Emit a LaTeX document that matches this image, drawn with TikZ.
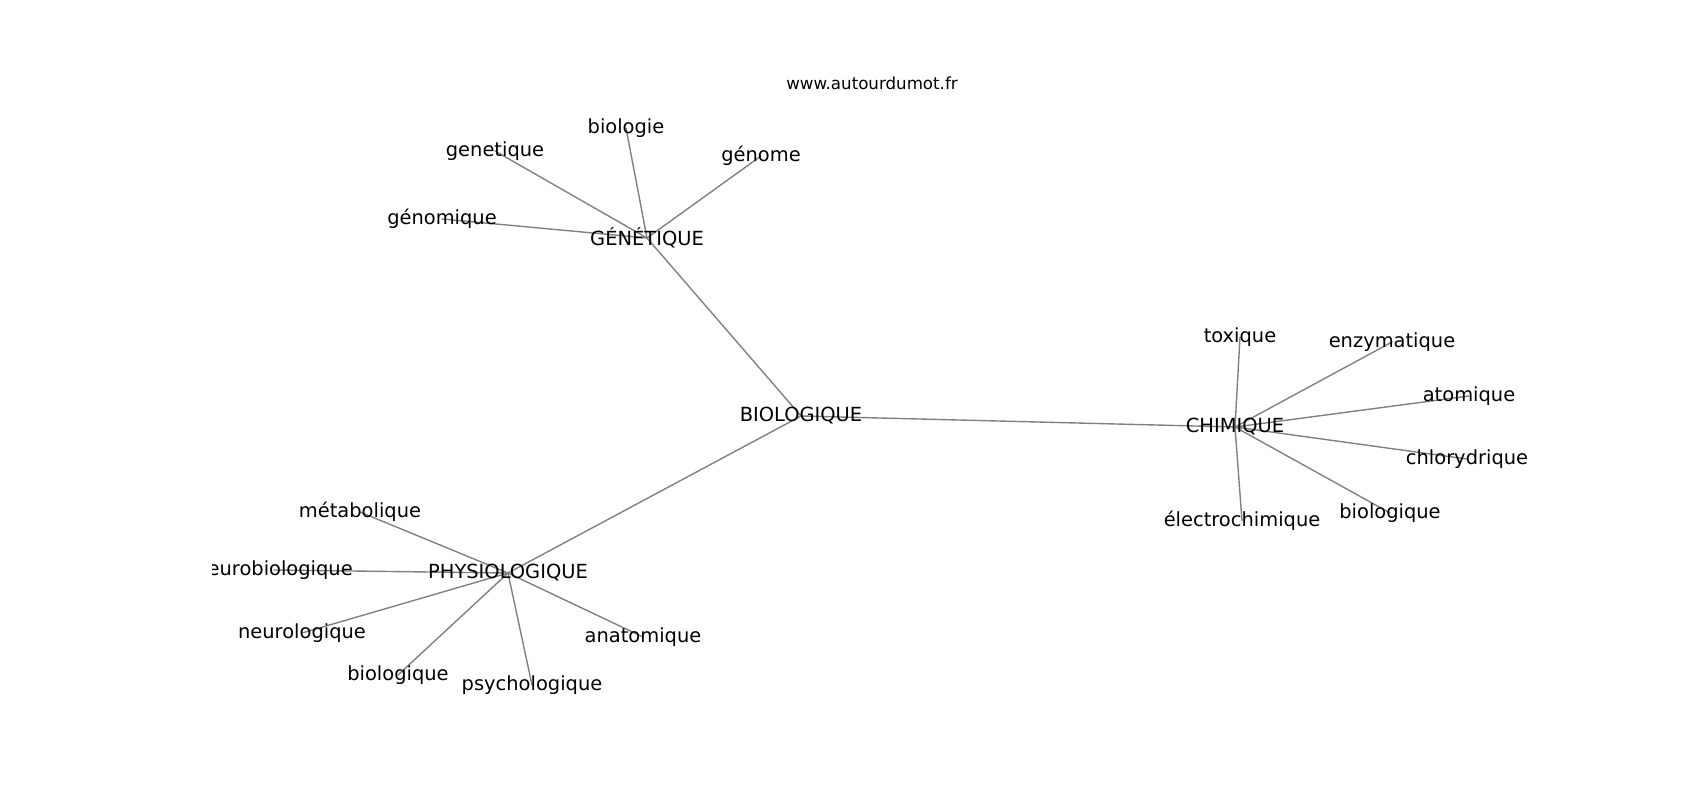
\documentclass[tikz,border=0pt]{standalone}
\usepackage{fontspec}
\setmainfont{DejaVu Sans}
\usepackage{tikz}
\usepackage{tkz-euclide}
\newcommand{\motcle}[1]{{\fontsize{14}{16}\selectfont #1}}

\begin{document}
\begin{tikzpicture}[x=0.72pt,y=-0.72pt]
		\useasboundingbox (0,0) rectangle (1700,800);
		% centres
		\tkzDefPoint(801,416){Bio}
		\tkzDefPoint(647,238){Gen}
		\tkzDefPoint(1235,427){Chi}
		\tkzDefPoint(508,573){Phy}
		% autour de GENETIQUE
		\tkzDefPoint(626,128){Gbio}
		\tkzDefPoint(495,151){Ggen}
		\tkzDefPoint(761,156){Ggenome}
		\tkzDefPoint(442,219){Ggenomique}
		% autour de CHIMIQUE
		\tkzDefPoint(1240,337){Ctox}
		\tkzDefPoint(1392,342){Cenz}
		\tkzDefPoint(1469,396){Cato}
		\tkzDefPoint(1467,459){Cchl}
		\tkzDefPoint(1390,513){Cbio}
		\tkzDefPoint(1242,521){Celec}
		% autour de PHYSIOLOGIQUE
		\tkzDefPoint(360,512){Pmeta}
		\tkzDefPoint(274,570){Pneurobio}
		\tkzDefPoint(302,633){Pneuro}
		\tkzDefPoint(398,675){Pbio}
		\tkzDefPoint(532,685){Ppsy}
		\tkzDefPoint(643,637){Pana}
		%\tkzDrawPoints(Bio,Gen,Chi,Phy)
		\tkzDrawSegments[color=gray,line width=1pt](Bio,Gen Bio,Chi Bio,Phy)
		\tkzDrawSegments[color=gray,line width=1pt](Gen,Gbio Gen,Ggen Gen,Ggenome Gen,Ggenomique)
		\tkzDrawSegments[color=gray,line width=1pt](Chi,Ctox Chi,Cenz Chi,Cato Chi,Cchl Chi,Cbio Chi,Celec)
		\tkzDrawSegments[color=gray,line width=1pt](Phy,Pmeta Phy,Pneurobio Phy,Pneuro Phy,Pbio Phy,Ppsy Phy,Pana)
		% labels, coupes au bord du cadre
		\begin{scope}
		\clip (212.5,96) rectangle (1530,712);
		\node (lBio) at (Bio) {\motcle{BIOLOGIQUE}};
		\node (lGen) at (Gen) {\motcle{GÉNÉTIQUE}};
		\node (lChi) at (Chi) {\motcle{CHIMIQUE}};
		\node (lPhy) at (Phy) {\motcle{PHYSIOLOGIQUE}};
		\node (lGbio) at (Gbio) {\motcle{biologie}};
		\node (lGgen) at (Ggen) {\motcle{genetique}};
		\node (lGgenome) at (Ggenome) {\motcle{génome}};
		\node (lGgenomique) at (Ggenomique) {\motcle{génomique}};
		\node (lCtox) at (Ctox) {\motcle{toxique}};
		\node (lCenz) at (Cenz) {\motcle{enzymatique}};
		\node (lCato) at (Cato) {\motcle{atomique}};
		\node (lCchl) at (Cchl) {\motcle{chlorydrique}};
		\node (lCbio) at (Cbio) {\motcle{biologique}};
		\node (lCelec) at (Celec) {\motcle{électrochimique}};
		\node (lPmeta) at (Pmeta) {\motcle{métabolique}};
		\node (lPneurobio) at (Pneurobio) {\motcle{neurobiologique}};
		\node (lPneuro) at (Pneuro) {\motcle{neurologique}};
		\node (lPbio) at (Pbio) {\motcle{biologique}};
		\node (lPpsy) at (Ppsy) {\motcle{psychologique}};
		\node (lPana) at (Pana) {\motcle{anatomique}};
		\end{scope}
		\node (titre) at (872,83) {{\fontsize{12}{14}\selectfont www.autourdumot.fr}};
	\end{tikzpicture}
\end{document}
